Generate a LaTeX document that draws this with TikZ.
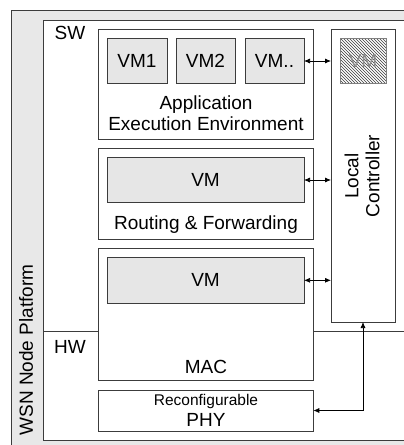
\documentclass[tikz,border=0pt]{standalone}
\usepackage{fontspec}
\setmainfont{Liberation Sans}
\usetikzlibrary{patterns,arrows.meta}

\tikzset{every picture/.style={line width=0.75pt}}
\tikzset{
  box/.style={draw={rgb, 255:red, 60; green, 60; blue, 60 }, fill=white, inner sep=0pt, outer sep=0pt, anchor=north west},
  vmbox/.style={box, fill={rgb, 255:red, 230; green, 230; blue, 230 }, font=\fontsize{19}{22}\selectfont},
  lbl/.style={inner sep=0.75pt, align=center, font=\fontsize{19}{21}\selectfont},
  link/.style={{Latex[length=6pt,width=5pt]}-{Latex[length=6pt,width=5pt]}, line width=0.75pt}
}

\begin{document}
\begin{tikzpicture}[x=1pt,y=1pt,yscale=-1,xscale=1]
\useasboundingbox (0,0) rectangle (404,445);
\clip (0,0) rectangle (404,445);

%Shape: Rectangle [platform]
\node [box, fill={rgb, 255:red, 232; green, 232; blue, 232 }, minimum width=420pt, minimum height=450pt] (platform) at (11,10) {};
%Shape: Rectangle [inner]
\node [box, minimum width=377pt, minimum height=420.7pt] (inner) at (43.3,20) {};

%Shape: Rectangle [application]
\node [box, minimum width=214.6pt, minimum height=109.7pt] (app) at (98.7,29.3) {};
\node [vmbox, minimum width=60pt, minimum height=44.6pt] (vm1) at (107,38.7) {VM1};
\node [vmbox, minimum width=59pt, minimum height=44.6pt] (vm2) at (176,38.7) {VM2};
\node [vmbox, minimum width=59pt, minimum height=44.6pt] (vmx) at (245,38.7) {VM..};
%Shape: Rectangle [routing]
\node [box, minimum width=214.6pt, minimum height=91pt] (routing) at (98.7,148.3) {};
\node [vmbox, minimum width=197pt, minimum height=45.4pt] (vmr) at (107,157.3) {VM};
%Shape: Rectangle [mac]
\node [box, minimum width=214.6pt, minimum height=132.4pt] (mac) at (98.7,248.3) {};
\node [vmbox, minimum width=197pt, minimum height=46pt] (vmm) at (107,257.3) {VM};
%Shape: Rectangle [phy]
\node [box, minimum width=214.6pt, minimum height=41pt] (phy) at (98.7,390) {};
%Shape: Rectangle [local controller]
\node [box, minimum width=64pt, minimum height=292.7pt] (lc) at (331,29.3) {};
\node [box, draw={rgb, 255:red, 128; green, 128; blue, 128 }, pattern=north west lines, pattern color={rgb, 255:red, 60; green, 60; blue, 60 }, minimum width=46pt, minimum height=44.6pt] (vmlc) at (340,38.7) {};

%Straight Lines [sw / hw]
\coordinate (swhw) at (43.3,331.7);
\draw [draw={rgb, 255:red, 60; green, 60; blue, 60 }] (swhw) -- (swhw -| mac.west);
\draw [draw={rgb, 255:red, 60; green, 60; blue, 60 }] (swhw -| mac.east) -- (swhw -| inner.east);

%Arrows
\draw [link] (vmx.east) -- (vmx.east -| lc.west);
\draw [link] (vmr.east) -- (vmr.east -| lc.west);
\draw [link] (vmm.east) -- (vmm.east -| lc.west);
\draw [link] (lc.south) |- (phy.east);

% Text Node
\node [lbl] (sw) at (70,33) {SW};
% Text Node
\node [lbl] (hw) at (70,347) {HW};
% Text Node
\node [lbl] (apptext) at (206,113) {Application\\Execution Environment};
% Text Node
\node [lbl] (routtext) at (206,225) {Routing \& Forwarding};
% Text Node
\node [lbl] (mactext) at (206,367) {MAC};
% Text Node
\node [lbl, font=\fontsize{15.5}{17}\selectfont] (reconf) at (206,401) {Reconfigurable};
% Text Node
\node [lbl] (phytext) at (206,420) {PHY};
% Text Node
\node [lbl, rotate=90] (lctext) at (362,176) {Local\\Controller};
% Text Node
\node [lbl, rotate=90] (platformtext) at (26,350) {WSN Node Platform};
% Text Node
\node [lbl, text={rgb, 255:red, 140; green, 140; blue, 140 }] (vmlctext) at (vmlc.center) {VM};

\end{tikzpicture}
\end{document}
